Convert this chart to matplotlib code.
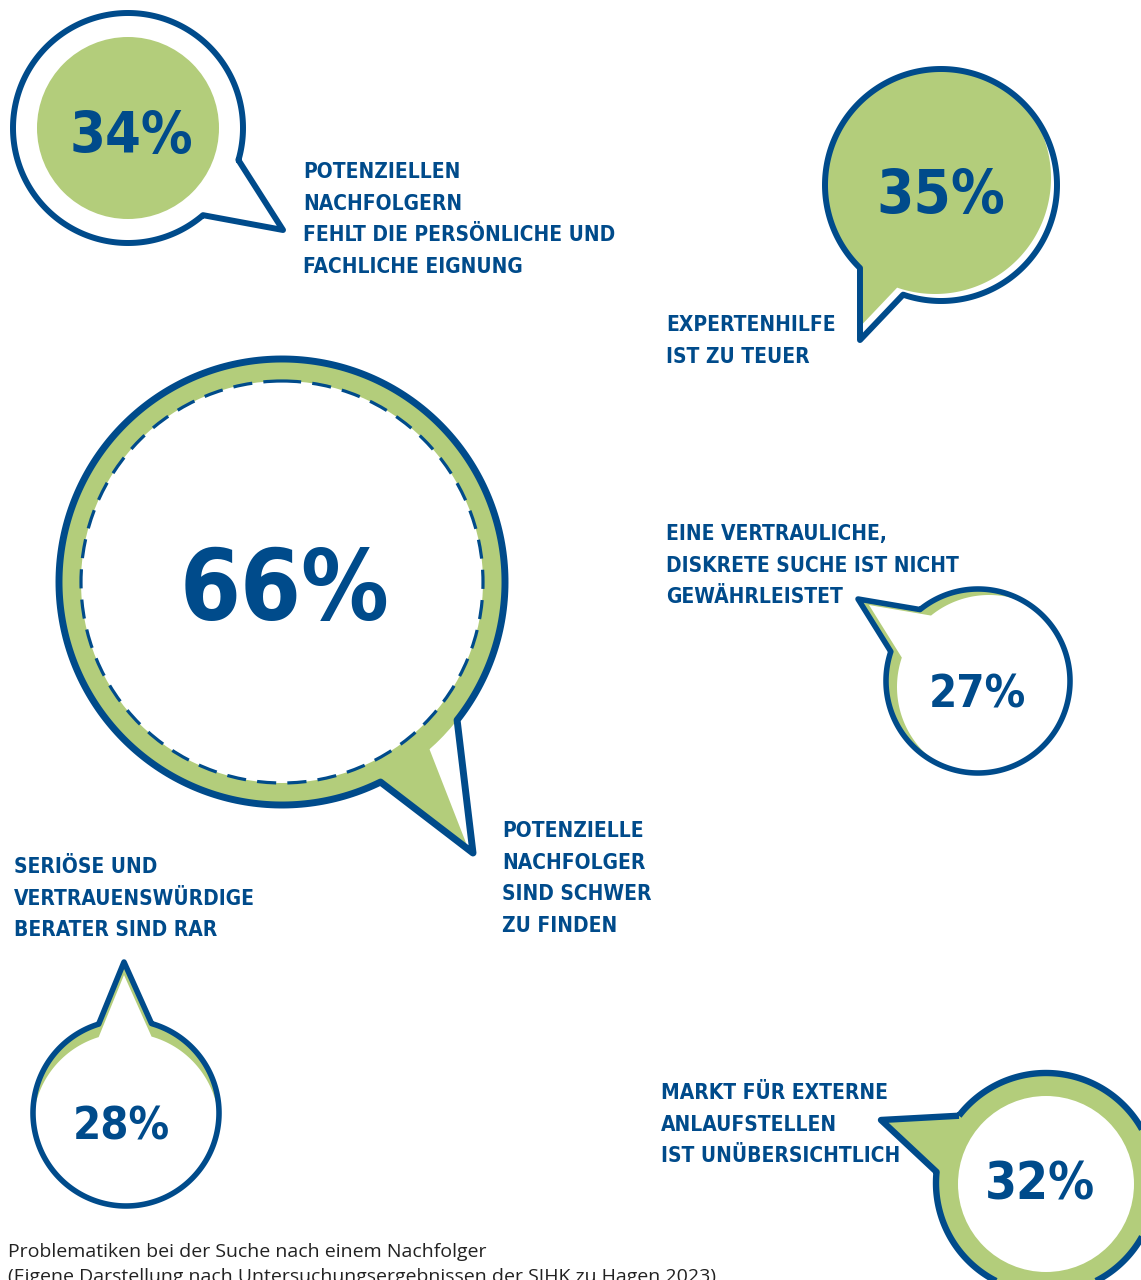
import numpy as np
import matplotlib.pyplot as plt
from matplotlib.path import Path
from matplotlib.patches import PathPatch, Circle, Polygon

BLUE = '#004b8b'
GREEN = '#b3cd7b'

# values shown in the bubbles
values = [34, 35, 66, 27, 28, 32]
labels = [
    ['POTENZIELLEN', 'NACHFOLGERN', 'FEHLT DIE PERSÖNLICHE UND', 'FACHLICHE EIGNUNG'],
    ['EXPERTENHILFE', 'IST ZU TEUER'],
    ['POTENZIELLE', 'NACHFOLGER', 'SIND SCHWER', 'ZU FINDEN'],
    ['EINE VERTRAULICHE,', 'DISKRETE SUCHE IST NICHT', 'GEWÄHRLEISTET'],
    ['SERIÖSE UND', 'VERTRAUENSWÜRDIGE', 'BERATER SIND RAR'],
    ['MARKT FÜR EXTERNE', 'ANLAUFSTELLEN', 'IST UNÜBERSICHTLICH'],
]
caption = ['Problematiken bei der Suche nach einem Nachfolger',
           '(Eigene Darstellung nach Untersuchungsergebnissen der SIHK zu Hagen 2023)']

# layout (pixel coordinates, y downwards)
# circle centre, radius, tail base A, tail tip, tail base B
bubbles = [
    dict(c=(128, 128), r=115, a=(238, 160), tip=(283, 230), b=(202, 214)),
    dict(c=(941, 185), r=116, a=(860, 268), tip=(860, 340), b=(903, 295)),
    dict(c=(282, 582), r=223, a=(457, 720), tip=(473, 853), b=(380, 781)),
    dict(c=(978, 681), r=92, a=(922, 612), tip=(858, 599), b=(892, 652)),
    dict(c=(126, 1113), r=93, a=(152, 1022), tip=(124, 962), b=(98, 1022)),
    dict(c=(1046, 1183), r=110, a=(958, 1115), tip=(881, 1120), b=(937, 1172)),
]
pct_pos = [(131, 153, 47), (941, 213, 49), (285, 620, 80), (977, 708, 37), (121, 1140, 37), (1040, 1200, 42)]
label_pos = [(303, 178), (666, 331), (502, 837), (666, 540), (14, 873), (661, 1099)]
line_step = 31.7


def bubble_path(c, r, a, tip, b, shift=(0, 0), n=300):
    cx, cy = c
    ta = np.arctan2(a[1] - cy, a[0] - cx)
    tb = np.arctan2(b[1] - cy, b[0] - cx)
    d = (ta - tb) % (2 * np.pi)
    if d < np.pi:
        d -= 2 * np.pi
    ts = tb + np.linspace(0, d, n)
    pts = [(cx + r * np.cos(ta), cy + r * np.sin(ta)), tip, (cx + r * np.cos(tb), cy + r * np.sin(tb))]
    pts += list(zip(cx + r * np.cos(ts), cy + r * np.sin(ts)))
    pts = np.array(pts) + np.array(shift)
    pts = np.vstack([pts, pts[:1]])
    codes = [Path.MOVETO] + [Path.LINETO] * (len(pts) - 2) + [Path.CLOSEPOLY]
    return Path(pts, codes)


fig = plt.figure(figsize=(11.41, 12.8), dpi=100)
ax = fig.add_axes([0, 0, 1, 1])
ax.set_xlim(0, 1141)
ax.set_ylim(1280, 0)
ax.axis('off')

fill_style = ['white', 'white', 'white', GREEN, GREEN, GREEN]
lw = [4.3, 4.3, 5.0, 4.0, 4.0, 4.6]

for i, bb in enumerate(bubbles):
    p = bubble_path(bb['c'], bb['r'], bb['a'], bb['tip'], bb['b'])
    base = PathPatch(p, facecolor=fill_style[i], edgecolor='none', zorder=1)
    ax.add_patch(base)
    extras = []
    if i == 0:
        extras.append(Circle(bb['c'], 91, facecolor=GREEN, edgecolor='none'))
    elif i == 1:
        extras.append(PathPatch(bubble_path(bb['c'], bb['r'], bb['a'], bb['tip'], bb['b'], shift=(-6, -7)),
                                facecolor=GREEN, edgecolor='none'))
    elif i == 2:
        extras.append(Circle(bb['c'], bb['r'], facecolor=GREEN, edgecolor='none'))
        extras.append(Polygon([(380, 781), (468, 848), (429, 748), (400, 740)], closed=True,
                              facecolor=GREEN, edgecolor='none'))
        extras.append(Circle(bb['c'], 201, facecolor='white', edgecolor='none'))
    elif i == 3:
        extras.append(PathPatch(bubble_path(bb['c'], bb['r'], bb['a'], bb['tip'], bb['b'], shift=(11, 6)),
                                facecolor='white', edgecolor='none'))
    elif i == 4:
        extras.append(PathPatch(bubble_path(bb['c'], bb['r'], bb['a'], bb['tip'], bb['b'], shift=(0, 13)),
                                facecolor='white', edgecolor='none'))
    elif i == 5:
        extras.append(Circle((1046, 1184), 88, facecolor='white', edgecolor='none'))
    for e in extras:
        e.set_zorder(2)
        ax.add_patch(e)
        e.set_clip_path(base)
    if i == 2:
        dash = Circle(bb['c'], 201, facecolor='none', edgecolor=BLUE, lw=2.3,
                      linestyle=(0, (6, 3.5)), zorder=3)
        ax.add_patch(dash)
    ax.add_patch(PathPatch(p, facecolor='none', edgecolor=BLUE, lw=lw[i], joinstyle='round', zorder=4))

pct_font = dict(family='DejaVu Sans', fontweight='bold', fontstretch='condensed', color=BLUE)
for v, (x, y, s) in zip(values, pct_pos):
    size_pt = s / 0.729 * 0.72 * 0.89
    ax.text(x, y, f'{v}%', ha='center', va='baseline', fontsize=size_pt, zorder=5, **pct_font)

for lines, (x, y) in zip(labels, label_pos):
    for k, line in enumerate(lines):
        ax.text(x, y + k * line_step, line, ha='left', va='baseline', fontsize=15,
                zorder=5, **pct_font)

for k, line in enumerate(caption):
    ax.text(8, 1257 + k * 25, line, ha='left', va='baseline', fontsize=14,
            family='Open Sans', color='#222222')

fig.savefig('out.png', dpi=100)
